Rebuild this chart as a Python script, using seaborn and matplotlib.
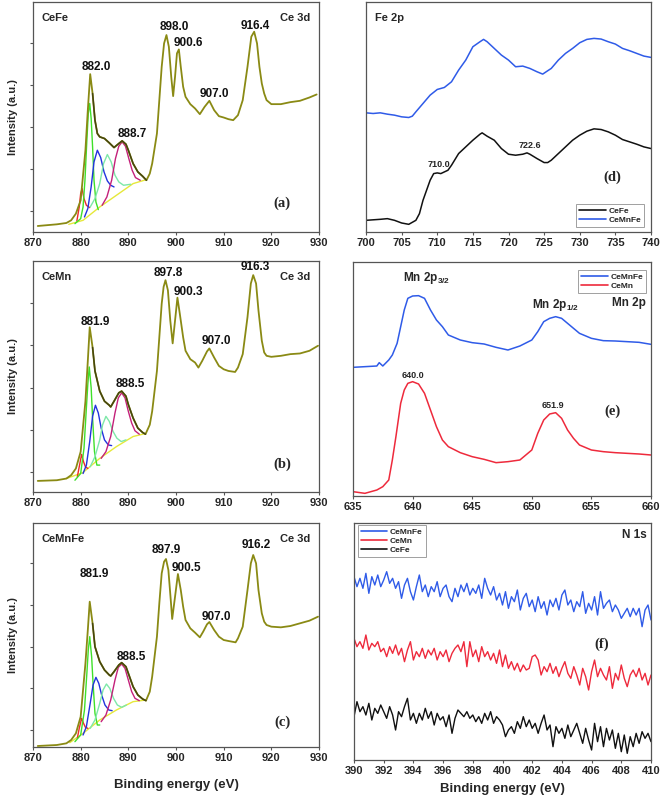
import matplotlib
matplotlib.use("Agg")
import matplotlib.pyplot as plt
from matplotlib.lines import Line2D
import seaborn as sns

sns.set_style("ticks")
plt.rcParams['font.family'] = ['Liberation Sans', 'DejaVu Sans']
plt.rcParams['font.weight'] = 'bold'
plt.rcParams['axes.labelweight'] = 'bold'
plt.rcParams['mathtext.fontset'] = 'custom'
plt.rcParams['mathtext.bf'] = 'Liberation Sans:bold'
plt.rcParams['mathtext.rm'] = 'Liberation Sans:bold'
plt.rcParams['mathtext.default'] = 'bf'

# ---------------- Ce 3d : CeFe (a) ----------------
a_E = [871, 875, 877, 878, 879, 880, 881, 881.5, 882.0, 882.5, 883, 883.5, 884, 885, 886, 887, 888, 888.7, 889.5, 890,
       891, 892, 893, 893.8, 894.5, 895, 896, 896.5, 897, 897.5, 898.0, 898.5, 899, 899.4, 899.8, 900.2, 900.6, 901, 901.5, 902,
       903, 904, 905, 906, 907.0, 908, 909, 910, 911, 912, 913, 914, 915, 915.8, 916.4, 917, 917.5, 918, 918.5, 919,
       920, 922, 924, 926, 928, 929.5]
a_I = [23, 28, 32, 40, 60, 100, 250, 370, 478, 420, 340, 300, 290, 285, 272, 258, 270, 278, 268, 250,
       210, 185, 172, 160, 180, 210, 300, 400, 500, 570, 595, 560, 470, 412, 470, 540, 552, 500, 440, 410,
       388, 375, 358, 380, 398, 370, 352, 348, 343, 340, 355, 400, 500, 590, 605, 570, 500, 450, 420, 400,
       388, 388, 394, 398, 408, 417]
a_bg_E = [877.5, 880.5, 884, 887.5, 891, 893.8]
a_bg_I = [28, 40, 80, 115, 150, 162]
a_red_E = [879.2, 879.7, 880.0, 880.3, 880.7, 881.2, 881.9]
a_red_I = [38, 80, 120, 135, 105, 85, 78]
a_grn_E = [878.8, 880.0, 880.5, 880.9, 881.3, 881.6, 881.9, 882.2, 882.5, 882.8, 883.2, 883.7]
a_grn_I = [30, 45, 80, 160, 280, 360, 390, 345, 260, 160, 95, 72]
a_blu_E = [880.8, 881.5, 882.2, 882.8, 883.5, 884.2, 884.9, 885.6, 886.3, 887.0]
a_blu_I = [50, 75, 140, 215, 250, 228, 185, 158, 145, 140]
a_cyn_E = [882.0, 883.0, 884.0, 884.8, 885.6, 886.4, 887.2, 888.0, 889.0, 890.5]
a_cyn_I = [80, 105, 150, 210, 237, 215, 175, 155, 145, 148]
a_mag_E = [884.5, 885.5, 886.5, 887.3, 888.0, 888.7, 889.4, 890.1, 890.8, 891.5, 892.5]
a_mag_I = [85, 110, 160, 225, 262, 275, 262, 225, 190, 168, 160]
a_peaks = ["882.0", "888.7", "898.0", "900.6", "907.0", "916.4"]
a_peak_E = [883.3, 890.8, 899.7, 902.5, 908.0, 916.7]
a_peak_I = [500, 300, 620, 570, 418, 622]

# ---------------- Ce 3d : CeMn (b) ----------------
b_E = [871, 875, 877, 878, 879, 880, 881, 881.5, 881.9, 882.5, 883, 884, 885, 886, 886.3, 887, 888, 888.6, 889.5, 890,
       891, 892, 893, 893.6, 894.5, 895, 896, 896.5, 897, 897.4, 897.8, 898.3, 898.8, 899.3, 899.8, 900.3, 900.8, 901.5, 902, 903,
       904, 904.7, 905.5, 906.5, 907.0, 908, 909, 910, 911, 912.4, 913, 914, 915, 915.7, 916.2, 916.8, 917.3, 918, 918.5, 919,
       920, 922, 924, 926, 928, 929.8]
b_I = [43, 45, 50, 60, 80, 130, 280, 400, 500, 440, 370, 310, 280, 268, 263, 280, 305, 310, 295, 270,
       230, 200, 187, 182, 210, 250, 370, 470, 570, 620, 640, 610, 520, 452, 520, 588, 540, 470, 430, 405,
       395, 380, 400, 428, 437, 410, 385, 375, 370, 367, 380, 420, 530, 630, 655, 630, 550, 460, 425, 415,
       412, 415, 420, 422, 430, 445]
b_bg_E = [877, 880.5, 884, 887.5, 891, 893.6]
b_bg_I = [50, 68, 110, 145, 175, 184]
b_red_E = [879.3, 879.7, 880.2, 880.6, 881.0, 881.5]
b_red_I = [55, 85, 122, 100, 85, 80]
b_grn_E = [878.8, 880.0, 880.7, 881.2, 881.5, 881.8, 882.2, 882.5, 882.9, 883.4, 884.0]
b_grn_I = [45, 65, 140, 260, 330, 382, 320, 230, 130, 90, 90]
b_blu_E = [880.5, 881.2, 881.9, 882.5, 883.1, 883.7, 884.3, 885.0, 885.8, 886.5]
b_blu_I = [65, 90, 160, 235, 268, 245, 200, 165, 150, 148]
b_cyn_E = [882.0, 883.0, 884.0, 884.6, 885.3, 886.0, 886.8, 887.6, 888.5, 889.5]
b_cyn_I = [85, 115, 165, 210, 235, 220, 190, 170, 160, 165]
b_mag_E = [884.3, 885.3, 886.3, 887.2, 887.9, 888.6, 889.3, 890.0, 890.7, 891.4, 892.3]
b_mag_I = [110, 130, 175, 245, 290, 305, 290, 250, 215, 192, 182]
b_peaks = ["881.9", "888.5", "897.8", "900.3", "907.0", "916.3"]
b_peak_E = [883.0, 890.5, 898.4, 902.6, 908.5, 916.6]
b_peak_I = [515, 330, 660, 605, 460, 680]

# ---------------- Ce 3d : CeMnFe (c) ----------------
c_E = [871, 875, 877, 878, 879, 880, 881, 881.5, 881.9, 882.5, 883, 884, 885, 886, 886.3, 887, 888, 888.6, 889.5, 890,
       891, 892, 893, 893.7, 894.5, 895, 896, 896.5, 897, 897.5, 897.9, 898.4, 898.9, 899.2, 899.8, 900.4, 901, 901.5, 902, 903,
       904, 905, 905.7, 906.5, 907.0, 908, 909, 910, 911, 912.5, 913, 914, 915, 915.7, 916.2, 916.8, 917.3, 918, 918.5, 919,
       920, 922, 924, 926, 928, 929.8]
c_I = [22, 25, 30, 40, 60, 110, 270, 370, 455, 390, 320, 275, 250, 235, 232, 245, 265, 272, 260, 240,
       200, 175, 163, 158, 185, 230, 350, 450, 540, 575, 583, 550, 460, 403, 470, 538, 490, 440, 400, 375,
       362, 348, 365, 387, 394, 370, 350, 340, 337, 333, 345, 380, 490, 570, 595, 570, 490, 420, 395, 385,
       380, 378, 382, 390, 398, 410]
c_bg_E = [877.7, 880.5, 884, 887.5, 891, 893.7]
c_bg_I = [32, 60, 100, 130, 155, 160]
c_red_E = [879.3, 879.7, 880.2, 880.6, 881.0, 881.5]
c_red_I = [45, 75, 105, 90, 78, 75]
c_grn_E = [878.8, 880.0, 880.8, 881.3, 881.6, 881.9, 882.3, 882.6, 883.0, 883.5, 884.0]
c_grn_I = [35, 55, 130, 240, 310, 350, 290, 210, 120, 85, 85]
c_blu_E = [880.5, 881.2, 882.0, 882.6, 883.2, 883.8, 884.4, 885.1, 885.9, 886.6]
c_blu_I = [55, 80, 150, 205, 228, 210, 175, 145, 130, 128]
c_cyn_E = [882.0, 883.0, 884.0, 884.7, 885.4, 886.1, 886.9, 887.7, 888.6, 889.6]
c_cyn_I = [75, 100, 150, 190, 208, 195, 165, 145, 138, 145]
c_mag_E = [884.3, 885.3, 886.3, 887.2, 887.9, 888.6, 889.3, 890.0, 890.7, 891.4, 892.3]
c_mag_I = [95, 115, 160, 220, 258, 268, 255, 220, 185, 165, 158]
c_peaks = ["881.9", "888.5", "897.9", "900.5", "907.0", "916.2"]
c_peak_E = [882.8, 890.7, 898.0, 902.2, 908.5, 916.8]
c_peak_I = [537, 288, 610, 557, 410, 625]

# ---------------- Fe 2p (d) ----------------
d_E_cefe = [700, 702, 703, 704, 705, 706, 707, 707.5, 708, 708.5, 709, 709.5, 710, 710.5, 711, 711.5, 712, 713, 714, 715,
            716, 716.3, 717, 718, 719, 720, 721, 722, 722.6, 723, 724, 725, 725.5, 726, 727, 728, 729, 730, 731, 732,
            733, 734, 735, 736, 737, 738, 739, 740]
d_cefe = [40, 43, 45, 40, 32, 28, 40, 60, 100, 130, 160, 180, 182, 180, 185, 190, 205, 240, 260, 280,
          298, 302, 292, 280, 255, 238, 235, 238, 242, 238, 225, 213, 213, 220, 240, 260, 280, 295, 307, 314,
          312, 305, 295, 282, 275, 268, 260, 255]
d_E_cemnfe = [700, 701, 702, 703, 704, 705, 706, 706.5, 707, 708, 709, 710, 711, 712, 713, 714, 715, 716, 716.5, 717,
              718, 719, 720, 721, 722, 723, 724, 724.8, 725.5, 726, 727, 728, 729, 730, 731, 732, 733, 734, 735, 736,
              737, 738, 739, 740]
d_cemnfe = [362, 360, 362, 358, 355, 350, 348, 352, 365, 390, 415, 432, 438, 455, 490, 520, 560, 575, 582, 575,
            555, 535, 520, 500, 502, 495, 485, 478, 488, 495, 520, 540, 555, 572, 582, 585, 583, 575, 568, 555,
            548, 540, 532, 528]

# ---------------- Mn 2p (e) ----------------
e_E_cemnfe = [635, 636, 637, 637.2, 637.5, 638, 638.3, 638.7, 639, 639.3, 639.6, 640, 640.5, 641, 641.5, 642, 642.5, 643, 644, 645,
              646, 647, 648, 649, 650, 650.5, 651, 651.5, 652, 652.5, 653, 654, 655, 656, 657, 658, 659, 660]
e_cemnfe = [398, 400, 402, 412, 402, 420, 435, 470, 520, 570, 605, 612, 613, 605, 570, 540, 520, 495, 480, 472,
            468, 458, 450, 462, 480, 505, 535, 545, 550, 545, 530, 500, 485, 478, 477, 475, 473, 467]
e_E_cemn = [635, 636, 637, 637.5, 638, 638.3, 638.6, 639, 639.3, 639.6, 640, 640.5, 641, 641.5, 642, 642.5, 643, 644, 645, 646,
            647, 648, 649, 650, 650.5, 651, 651.5, 652, 652.5, 653, 653.5, 654, 655, 656, 657, 658, 659, 660]
e_cemn = [25, 20, 30, 40, 60, 120, 190, 290, 330, 350, 355, 348, 320, 270, 220, 180, 160, 142, 130, 122,
          112, 115, 120, 150, 200, 240, 258, 262, 245, 210, 185, 165, 150, 145, 142, 140, 138, 135]

# ---------------- N 1s (f) ----------------
f_E = [390.0, 390.2, 390.4, 390.6, 390.8, 391.0, 391.2, 391.4, 391.6, 391.8,
       392.0, 392.2, 392.4, 392.6, 392.8, 393.0, 393.2, 393.4, 393.6, 393.8,
       394.0, 394.2, 394.4, 394.6, 394.8, 395.0, 395.2, 395.4, 395.6, 395.8,
       396.0, 396.2, 396.4, 396.6, 396.8, 397.0, 397.2, 397.4, 397.6, 397.8,
       398.0, 398.2, 398.4, 398.6, 398.8, 399.0, 399.2, 399.4, 399.6, 399.8,
       400.0, 400.2, 400.4, 400.6, 400.8, 401.0, 401.2, 401.4, 401.6, 401.8,
       402.0, 402.2, 402.4, 402.6, 402.8, 403.0, 403.2, 403.4, 403.6, 403.8,
       404.0, 404.2, 404.4, 404.6, 404.8, 405.0, 405.2, 405.4, 405.6, 405.8,
       406.0, 406.2, 406.4, 406.6, 406.8, 407.0, 407.2, 407.4, 407.6, 407.8,
       408.0, 408.2, 408.4, 408.6, 408.8, 409.0, 409.2, 409.4, 409.6, 409.8,
       410.0]
f_cemnfe = [560, 530, 555, 525, 570, 510, 560, 535, 565, 530,
            550, 575, 540, 555, 525, 545, 495, 535, 555, 515,
            490, 530, 565, 515, 535, 500, 530, 515, 545, 500,
            525, 535, 500, 485, 525, 500, 535, 515, 540, 505,
            525, 510, 535, 495, 555, 525, 505, 530, 490, 510,
            475, 515, 465, 500, 485, 520, 460, 495, 510, 470,
            490, 455, 500, 465, 485, 445, 490, 470, 495, 460,
            505, 520, 475, 490, 455, 485, 470, 515, 450, 480,
            460, 500, 445, 515, 465, 480, 490, 455, 475, 460,
            435, 450, 465, 440, 465, 445, 465, 410, 460, 475,
            430]
f_cemn = [375, 350, 365, 345, 385, 340, 360, 350, 365, 335,
          345, 320, 350, 330, 355, 325, 345, 305, 340, 365,
          310, 335, 320, 345, 315, 340, 325, 345, 310, 335,
          320, 340, 305, 330, 345, 355, 335, 365, 290, 365,
          320, 340, 305, 350, 320, 335, 310, 330, 300, 340,
          290, 325, 285, 305, 280, 300, 275, 295, 280, 285,
          320, 325, 310, 265, 290, 275, 300, 270, 290, 260,
          285, 305, 270, 255, 290, 265, 235, 285, 260, 220,
          275, 310, 260, 285, 265, 250, 290, 225, 270, 250,
          295, 255, 230, 265, 280, 260, 285, 250, 270, 235,
          265]
f_cefe = [140, 185, 155, 170, 145, 180, 130, 165, 150, 175,
          155, 135, 170, 145, 100, 155, 140, 170, 195, 130,
          150, 120, 150, 130, 165, 135, 155, 115, 150, 130,
          140, 110, 145, 90, 135, 160, 150, 140, 155, 135,
          145, 125, 140, 120, 150, 130, 155, 120, 140, 130,
          115, 80, 100, 110, 90, 125, 105, 140, 110, 130,
          105, 120, 90, 120, 145, 100, 115, 50, 110, 90,
          105, 75, 115, 80, 100, 120, 90, 60, 105, 70,
          40, 120, 65, 110, 50, 105, 70, 100, 45, 90,
          35, 85, 30, 80, 50, 90, 60, 95, 75, 90,
          65]

# ---------------- styling ----------------
OLIVE = "#8a8a14"
DARK_OLIVE = "#45450e"
BLUE = "#2f5be8"
RED = "#ee2a3c"
BLACK = "#111111"
COMP = {"bg": "#e6e83a", "red": "#ee2a2a", "grn": "#3fe02a", "blu": "#2233dd",
        "cyn": "#7de8a8", "mag": "#c4207a"}
SPINE = "#555555"

fig = plt.figure(figsize=(6.61, 8.0), dpi=100)


def add_axes(l, t, r, b):
    W, H = 661.0, 800.0
    return fig.add_axes([l / W, 1 - b / H, (r - l) / W, (b - t) / H])


def line(ax, x, y, color, lw=1.0, z=2):
    sns.lineplot(x=x, y=y, ax=ax, color=color, linewidth=lw, estimator=None,
                 sort=False, legend=False, zorder=z)


def style(ax, xlim, xticks, ylim):
    ax.set_xlim(*xlim)
    ax.set_ylim(*ylim)
    ax.set_xticks(xticks)
    ax.set_xticklabels([str(t) for t in xticks], fontsize=8, fontweight='bold')
    ax.tick_params(axis='both', direction='out', length=2.5, width=0.8,
                   color=SPINE, pad=2)
    for s in ax.spines.values():
        s.set_color(SPINE)
        s.set_linewidth(0.9)
    ax.set_xlabel("")
    ax.set_ylabel("")


def ce_panel(ax, E, I, comps, peaks, pE, pI, name, tag, ylim, yt):
    for key in ["bg", "red", "grn", "blu", "cyn", "mag"]:
        cx, cy = comps[key]
        line(ax, cx, cy, COMP[key], lw=1.0, z=2)
    line(ax, E, I, OLIVE, lw=1.3, z=3)
    # darker fitted envelope over the fitted region
    sub = [(e, v) for e, v in zip(E, I) if 882.3 <= e <= 893.8]
    line(ax, [s[0] for s in sub], [s[1] for s in sub], DARK_OLIVE, lw=1.1, z=4)
    style(ax, (870, 930), [870, 880, 890, 900, 910, 920, 930], ylim)
    ax.set_yticks(yt)
    ax.set_yticklabels([])
    for lab, x, y in zip(peaks, pE, pI):
        ax.text(x, y, lab, ha='center', va='center', fontsize=8.5, fontweight='bold', color='#111111')
    ax.text(0.03, 0.93, name, transform=ax.transAxes, ha='left', va='center', fontsize=8, fontweight='bold')
    ax.text(0.97, 0.93, "Ce 3d", transform=ax.transAxes, ha='right', va='center', fontsize=8, fontweight='bold')
    ax.text(922.3, 92, tag, ha='center', va='center', fontsize=10.5, fontweight='bold',
            family=['Liberation Serif', 'DejaVu Serif'])
    ax.set_ylabel("Intensity (a.u.)", fontsize=8, fontweight='bold', labelpad=6)


# (a)
axa = add_axes(33, 2, 319, 232)
ce_panel(axa, a_E, a_I,
         {"bg": (a_bg_E, a_bg_I), "red": (a_red_E, a_red_I), "grn": (a_grn_E, a_grn_I),
          "blu": (a_blu_E, a_blu_I), "cyn": (a_cyn_E, a_cyn_I), "mag": (a_mag_E, a_mag_I)},
         a_peaks, a_peak_E, a_peak_I, "CeFe", "(a)", (5, 694), [68, 193, 320, 445, 570])

# (b)
axb = add_axes(33, 261, 319, 492)
ce_panel(axb, b_E, b_I,
         {"bg": (b_bg_E, b_bg_I), "red": (b_red_E, b_red_I), "grn": (b_grn_E, b_grn_I),
          "blu": (b_blu_E, b_blu_I), "cyn": (b_cyn_E, b_cyn_I), "mag": (b_mag_E, b_mag_I)},
         b_peaks, b_peak_E, b_peak_I, "CeMn", "(b)", (10, 697), [70, 195, 320, 447, 572])

# (c)
axc = add_axes(33, 523, 319, 747)
ce_panel(axc, c_E, c_I,
         {"bg": (c_bg_E, c_bg_I), "red": (c_red_E, c_red_I), "grn": (c_grn_E, c_grn_I),
          "blu": (c_blu_E, c_blu_I), "cyn": (c_cyn_E, c_cyn_I), "mag": (c_mag_E, c_mag_I)},
         c_peaks, c_peak_E, c_peak_I, "CeMnFe", "(c)", (19, 691), [70, 195, 320, 445, 570])
axc.set_xlabel("Binding energy (eV)", fontsize=9.5, fontweight='bold', labelpad=11)


def legend(ax, items, **kw):
    handles = [Line2D([0], [0], color=c, lw=1.2) for _, c in items]
    leg = ax.legend(handles, [n for n, _ in items], fontsize=6, frameon=True, fancybox=False,
                    handlelength=3.2, handletextpad=0.3, borderpad=0.35, labelspacing=0.15,
                    borderaxespad=0.0, **kw)
    leg.get_frame().set_edgecolor('#888888')
    leg.get_frame().set_linewidth(0.7)
    for t in leg.get_texts():
        t.set_fontweight('bold')


# (d)
axd = add_axes(366, 2, 651, 232)
line(axd, d_E_cefe, d_cefe, BLACK, lw=1.1)
line(axd, d_E_cemnfe, d_cemnfe, BLUE, lw=1.1)
style(axd, (700, 740), [700, 705, 710, 715, 720, 725, 730, 735, 740], (5, 694))
axd.set_yticks([])
axd.text(0.03, 0.93, "Fe 2p", transform=axd.transAxes, ha='left', va='center', fontsize=8, fontweight='bold')
axd.text(710.2, 208, "710.0", ha='center', va='center', fontsize=6.5, fontweight='bold')
axd.text(723.0, 263, "722.6", ha='center', va='center', fontsize=6.5, fontweight='bold')
axd.text(734.5, 170, "(d)", ha='center', va='center', fontsize=10.5, fontweight='bold',
         family=['Liberation Serif', 'DejaVu Serif'])
legend(axd, [("CeFe", BLACK), ("CeMnFe", BLUE)], loc='lower right', bbox_to_anchor=(0.975, 0.022))

# (e)
axe = add_axes(353, 262, 651, 496)
line(axe, e_E_cemnfe, e_cemnfe, BLUE, lw=1.1)
line(axe, e_E_cemn, e_cemn, RED, lw=1.1)
style(axe, (635, 660), [635, 640, 645, 650, 655, 660], (12, 714))
axe.set_yticks([])
axe.text(641.2, 665, r"Mn 2p$_{3/2}$", ha='center', va='center', fontsize=8.5, fontweight='bold')
axe.text(652.0, 585, r"Mn 2p$_{1/2}$", ha='center', va='center', fontsize=8.5, fontweight='bold')
axe.text(659.6, 592, "Mn 2p", ha='right', va='center', fontsize=8.5, fontweight='bold')
axe.text(640.0, 375, "640.0", ha='center', va='center', fontsize=6.5, fontweight='bold')
axe.text(651.8, 285, "651.9", ha='center', va='center', fontsize=6.5, fontweight='bold')
axe.text(656.8, 265, "(e)", ha='center', va='center', fontsize=10.5, fontweight='bold',
         family=['Liberation Serif', 'DejaVu Serif'])
legend(axe, [("CeMnFe", BLUE), ("CeMn", RED)], loc='upper right', bbox_to_anchor=(0.983, 0.966))

# (f)
axf = add_axes(354, 523, 651, 760)
line(axf, f_E, f_cemnfe, BLUE, lw=1.0)
line(axf, f_E, f_cemn, RED, lw=1.0)
line(axf, f_E, f_cefe, BLACK, lw=1.0)
style(axf, (390, 410), [390, 392, 394, 396, 398, 400, 402, 404, 406, 408, 410], (10, 721))
axf.set_yticks([])
axf.text(409.7, 685, "N 1s", ha='right', va='center', fontsize=8.5, fontweight='bold')
axf.text(406.7, 358, "(f)", ha='center', va='center', fontsize=10.5, fontweight='bold',
         family=['Liberation Serif', 'DejaVu Serif'])
legend(axf, [("CeMnFe", BLUE), ("CeMn", RED), ("CeFe", BLACK)], loc='upper left',
       bbox_to_anchor=(0.013, 0.99))
axf.set_xlabel("Binding energy (eV)", fontsize=9.5, fontweight='bold', labelpad=5)

fig.savefig("out.png", dpi=100)
